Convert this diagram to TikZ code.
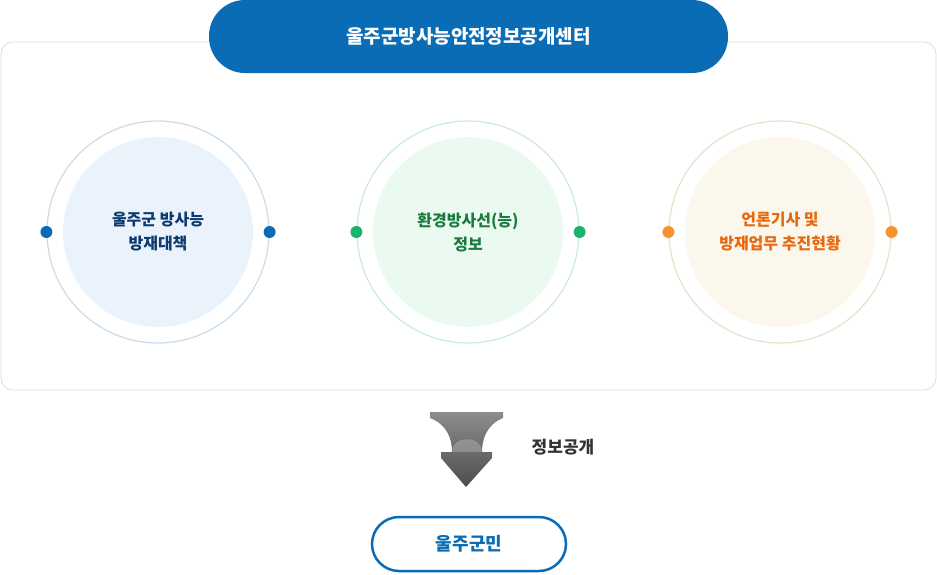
\documentclass[tikz,border=0pt]{standalone}
\usepackage{fontspec}
\setmainfont{Noto Sans CJK KR}
\usetikzlibrary{positioning}
\definecolor{mainblue}{RGB}{10,108,181}
\definecolor{ringA}{RGB}{201,220,236}
\definecolor{fillA}{RGB}{234,243,251}
\definecolor{textA}{RGB}{13,59,112}
\definecolor{ringB}{RGB}{200,236,214}
\definecolor{fillB}{RGB}{235,250,241}
\definecolor{dotB}{RGB}{29,179,110}
\definecolor{textB}{RGB}{27,122,62}
\definecolor{ringC}{RGB}{236,223,202}
\definecolor{fillC}{RGB}{252,247,236}
\definecolor{dotC}{RGB}{247,146,47}
\definecolor{textC}{RGB}{232,104,15}
\tikzset{
  ring/.style={circle, minimum size=222pt, line width=1.2pt},
  core/.style={circle, minimum size=190pt, align=center, font=\fontsize{16}{24}\selectfont\bfseries},
  dot/.style={circle, minimum size=12pt, inner sep=0pt},
}
\begin{document}
\begin{tikzpicture}[x=1pt,y=-1pt]
\useasboundingbox (0,0) rectangle (937,574);
% frame
\draw[rounded corners=12pt, draw=black!14, line width=0.8pt] (1,42) rectangle (936,390);
\node[fill=mainblue, rounded corners=36pt, minimum width=519pt, minimum height=73pt, text=white, font=\fontsize{19}{22}\selectfont\bfseries] (title) at (468.5,36.5) {울주군방사능안전정보공개센터};
% circles
\node[ring, draw=ringA] (ra) at (158,232) {};
\node[core, fill=fillA, text=textA] (ca) at (158,232) {울주군 방사능\\방재대책};
\node[dot, fill=mainblue] (la) at (ra.west) {};
\node[dot, fill=mainblue] (xa) at (ra.east) {};
\node[ring, draw=ringB] (rb) at (468,232) {};
\node[core, fill=fillB, text=textB] (cb) at (468,232) {환경방사선(능)\\정보};
\node[dot, fill=dotB] (lb) at (rb.west) {};
\node[dot, fill=dotB] (xb) at (rb.east) {};
\node[ring, draw=ringC] (rc) at (780,232) {};
\node[core, fill=fillC, text=textC] (cc) at (780,232) {언론기사 및\\방재업무 추진현황};
\node[dot, fill=dotC] (lc) at (rc.west) {};
\node[dot, fill=dotC] (xc) at (rc.east) {};
% arrow
\shade[top color=black!45, bottom color=black!70] (430,412) -- (503,412) -- (503,418) .. controls (486,425) and (482,440) .. (482,452) -- (492,452) -- (492,458) -- (466,487) -- (441,458) -- (441,452) -- (452,452) .. controls (452,440) and (448,425) .. (430,418) -- cycle;
\fill[black!35, opacity=0.6] (452,452) .. controls (452,435) and (482,435) .. (482,452) -- cycle;
\node[font=\fontsize{17}{20}\selectfont\bfseries, text=black!80] (info) at (563,447) {정보공개};
\node[draw=mainblue, line width=2.5pt, fill=white, rounded corners=27pt, minimum width=194pt, minimum height=54pt, text=mainblue, font=\fontsize{18}{22}\selectfont\bfseries] (people) at (469,544) {울주군민};
\end{tikzpicture}
\end{document}
